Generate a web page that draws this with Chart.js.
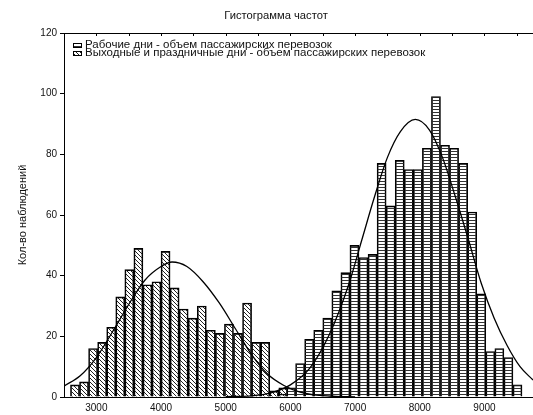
<!DOCTYPE html>
<html><head><meta charset="utf-8">
<script src="https://cdn.jsdelivr.net/npm/chart.js@4.4.0/dist/chart.umd.min.js"></script>
<style>html,body{margin:0;padding:0;background:#fff;} canvas{display:block;}</style>
</head><body>
<canvas id="c" width="533" height="415"></canvas>
<script>
const chartTitle = 'Гистограмма частот';
const yAxisTitle = 'Кол-во наблюдений';
const workdayLabel = 'Рабочие дни - объем пассажирских перевозок';
const holidayLabel = 'Выходные и праздничные дни - объем пассажирских перевозок';

// bin centres (x) and counts
const holidayBins = [2670, 2810, 2950, 3090, 3230, 3370, 3510, 3650, 3790, 3930, 4070, 4210, 4350, 4490, 4630, 4770, 4910, 5050, 5190, 5330, 5470, 5610, 5750, 5890];
const holidayCounts = [4, 5, 16, 18, 23, 33, 42, 49, 37, 38, 48, 36, 29, 26, 30, 22, 21, 24, 21, 31, 18, 18, 2, 3];
const workdayBins = [5870, 6010, 6150, 6290, 6430, 6570, 6710, 6850, 6990, 7130, 7270, 7410, 7550, 7690, 7830, 7970, 8110, 8250, 8390, 8530, 8670, 8810, 8950, 9090, 9230, 9370, 9510];
const workdayCounts = [1, 3, 11, 19, 22, 26, 35, 41, 50, 46, 47, 77, 63, 78, 75, 75, 82, 99, 83, 82, 77, 61, 34, 15, 16, 13, 4];

// fitted normal curves
const holidayFitX = [2500, 2750, 3000, 3250, 3500, 3750, 4000, 4170, 4400, 4650, 4900, 5150, 5400, 5650, 5900, 6150, 6400, 6700, 7000];
const holidayFitY = [3.6, 7, 13, 21.5, 30.5, 38.5, 43, 44.5, 43, 38, 31, 22.5, 14, 7.5, 3.8, 1.6, 0.6, 0.2, 0.05];
const workdayFitX = [5000, 5400, 5700, 6000, 6300, 6600, 6900, 7100, 7300, 7500, 7700, 7930, 8150, 8350, 8550, 8750, 8950, 9150, 9350, 9550, 9750];
const workdayFitY = [0.1, 0.4, 1.4, 4, 9.5, 20.5, 37, 51.5, 66, 79, 87.5, 91.5, 88, 79, 66, 52, 37.5, 26, 17, 10, 5.6];

const xTickValues = [3000, 4000, 5000, 6000, 7000, 8000, 9000];
const topTickValues = [2500, 3000, 3500, 4000, 4500, 5000, 5500, 6000, 6500, 7000, 7500, 8000, 8500, 9000, 9500];
const xMin = 2500, xMax = 9750;
const yMin = 0, yMax = 120, yStep = 20;

const FONT = '"Liberation Sans", Arial, sans-serif';
const INK = '#111';

function makePattern(kind) {
  const c = document.createElement('canvas');
  const ctx = c.getContext('2d');
  if (kind === 'diag') {
    c.width = 4; c.height = 4;
    ctx.strokeStyle = '#222'; ctx.lineWidth = 1;
    ctx.beginPath();
    ctx.moveTo(-1, -1); ctx.lineTo(5, 5);
    ctx.moveTo(-1, 3); ctx.lineTo(1, 5);
    ctx.moveTo(3, -1); ctx.lineTo(5, 1);
    ctx.stroke();
  } else {
    c.width = 8; c.height = 3;
    ctx.fillStyle = '#333';
    ctx.fillRect(0, 1, 8, 1);
  }
  return ctx.createPattern(c, 'repeat');
}

const pts = (xs, ys) => xs.map((x, i) => ({x: x, y: ys[i]}));

function scaledText(ctx, text, x, y, sx) {
  ctx.save();
  ctx.translate(x, y);
  ctx.scale(sx, 1);
  ctx.fillText(text, 0, 0);
  ctx.restore();
}

const framePlugin = {
  id: 'frameAndLegend',
  afterDraw(chart) {
    const {ctx, chartArea: a, scales} = chart;
    ctx.save();
    // title
    ctx.fillStyle = INK;
    ctx.font = '10px ' + FONT;
    ctx.textBaseline = 'middle'; ctx.textAlign = 'center';
    scaledText(ctx, chartTitle, 276, 16.5, 1.12);
    // top frame line with tick marks
    ctx.strokeStyle = '#000'; ctx.lineWidth = 1;
    ctx.beginPath();
    ctx.moveTo(a.left, a.top + 0.5); ctx.lineTo(a.right, a.top + 0.5);
    topTickValues.forEach(v => {
      const px = Math.round(scales.x.getPixelForValue(v)) + 0.5;
      ctx.moveTo(px, a.top); ctx.lineTo(px, a.top + 3);
    });
    ctx.stroke();
    // legend
    const items = [chart.data.datasets[2], chart.data.datasets[3]];
    items.forEach((ds, i) => {
      const x = a.left + 9, y = a.top + 10 + i * 8;
      ctx.fillStyle = '#fff'; ctx.fillRect(x, y, 9, 5);
      ctx.fillStyle = ds.backgroundColor; ctx.fillRect(x, y, 9, 5);
      ctx.strokeStyle = '#000'; ctx.lineWidth = 1;
      ctx.strokeRect(x + 0.5, y + 0.5, 8, 4);
      ctx.fillStyle = INK;
      ctx.font = '10px ' + FONT;
      ctx.textBaseline = 'middle'; ctx.textAlign = 'left';
      scaledText(ctx, ds.label, x + 12, y + 2.5, 1.15);
    });
    ctx.restore();
  }
};

new Chart(document.getElementById('c'), {
  type: 'bar',
  data: {
    datasets: [
      { type: 'line', label: 'fit-work', data: pts(workdayFitX, workdayFitY), xAxisID: 'x', borderColor: '#000', borderWidth: 1.3, pointRadius: 0, fill: false, cubicInterpolationMode: 'monotone', order: 0 },
      { type: 'line', label: 'fit-hol', data: pts(holidayFitX, holidayFitY), xAxisID: 'x', borderColor: '#000', borderWidth: 1.3, pointRadius: 0, fill: false, cubicInterpolationMode: 'monotone', order: 0 },
      { type: 'bar', label: workdayLabel, data: pts(workdayBins, workdayCounts), xAxisID: 'x2', backgroundColor: makePattern('horiz'), borderColor: '#000', borderWidth: 1, grouped: false, barPercentage: 1, categoryPercentage: 1, order: 2 },
      { type: 'bar', label: holidayLabel, data: pts(holidayBins, holidayCounts), xAxisID: 'x', backgroundColor: makePattern('diag'), borderColor: '#000', borderWidth: 1, grouped: false, barPercentage: 1, categoryPercentage: 1, order: 1 }
    ]
  },
  options: {
    responsive: false,
    animation: false,
    devicePixelRatio: 1,
    layout: { padding: { top: 33, left: 0, right: 0, bottom: 0 } },
    plugins: {
      legend: { display: false },
      tooltip: { enabled: false },
      title: { display: false }
    },
    scales: {
      x: {
        type: 'linear', position: 'bottom', min: xMin, max: xMax, offset: false,
        afterFit: s => { s.height = 18; },
        afterBuildTicks: s => { s.ticks = xTickValues.map(v => ({ value: v })); },
        ticks: { autoSkip: false, color: INK, font: { family: FONT, size: 10 }, padding: 5, maxRotation: 0, callback: v => String(v) },
        grid: { display: true, offset: false, drawOnChartArea: false, drawTicks: false, color: '#000' },
        border: { display: true, color: '#000', width: 1 }
      },
      x2: {
        type: 'linear', display: false, min: xMin, max: xMax, offset: false,
        afterBuildTicks: s => { s.ticks = xTickValues.map(v => ({ value: v })); },
        grid: { offset: false }
      },
      y: {
        min: yMin, max: yMax,
        afterFit: s => { s.width = 64; },
        ticks: { stepSize: yStep, color: INK, font: { family: FONT, size: 10 }, padding: 3 },
        grid: { display: true, drawOnChartArea: false, drawTicks: true, tickLength: 4, color: '#000' },
        border: { display: true, color: '#000', width: 1 },
        title: { display: true, text: yAxisTitle, color: INK, font: { family: FONT, size: 11 }, padding: { top: 16.4, bottom: 0 } }
      }
    }
  },
  plugins: [framePlugin]
});
</script>
</body></html>
